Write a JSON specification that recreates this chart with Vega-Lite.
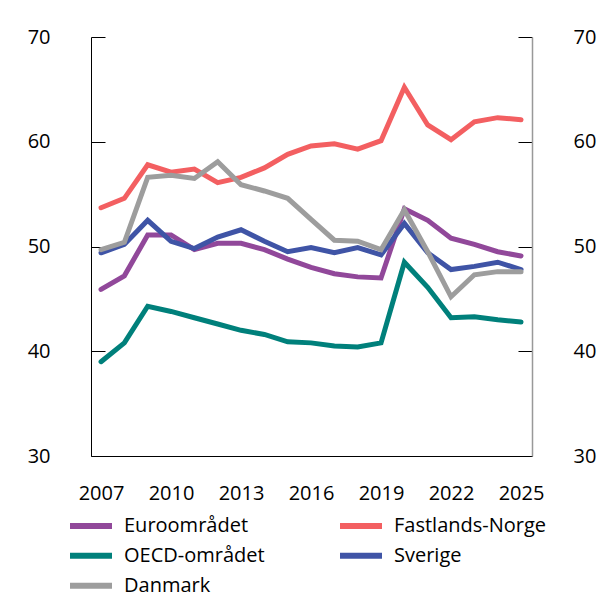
{
  "$schema": "https://vega.github.io/schema/vega-lite/v6.json",
  "width": 441,
  "height": 419,
  "autosize": {"type": "none"},
  "padding": {"left": 91, "top": 37, "right": 82, "bottom": 149},
  "background": "white",
  "config": {
    "font": "Open Sans",
    "view": {"stroke": null},
    "axis": {"labelFont": "Open Sans", "labelFontSize": 20, "labelColor": "#000", "grid": false, "title": null},
    "legend": {"labelFont": "Open Sans", "labelFontSize": 20, "labelColor": "#000"}
  },
  "data": {"values": [
    {"year":2007,"series":"Euroområdet","value":45.9},{"year":2008,"series":"Euroområdet","value":47.2},{"year":2009,"series":"Euroområdet","value":51.1},{"year":2010,"series":"Euroområdet","value":51.1},{"year":2011,"series":"Euroområdet","value":49.7},{"year":2012,"series":"Euroområdet","value":50.3},{"year":2013,"series":"Euroområdet","value":50.3},{"year":2014,"series":"Euroområdet","value":49.7},{"year":2015,"series":"Euroområdet","value":48.8},{"year":2016,"series":"Euroområdet","value":48.0},{"year":2017,"series":"Euroområdet","value":47.4},{"year":2018,"series":"Euroområdet","value":47.1},{"year":2019,"series":"Euroområdet","value":47.0},{"year":2020,"series":"Euroområdet","value":53.6},{"year":2021,"series":"Euroområdet","value":52.5},{"year":2022,"series":"Euroområdet","value":50.8},{"year":2023,"series":"Euroområdet","value":50.2},{"year":2024,"series":"Euroområdet","value":49.5},{"year":2025,"series":"Euroområdet","value":49.1},
    {"year":2007,"series":"Fastlands-Norge","value":53.7},{"year":2008,"series":"Fastlands-Norge","value":54.6},{"year":2009,"series":"Fastlands-Norge","value":57.8},{"year":2010,"series":"Fastlands-Norge","value":57.1},{"year":2011,"series":"Fastlands-Norge","value":57.4},{"year":2012,"series":"Fastlands-Norge","value":56.1},{"year":2013,"series":"Fastlands-Norge","value":56.6},{"year":2014,"series":"Fastlands-Norge","value":57.5},{"year":2015,"series":"Fastlands-Norge","value":58.8},{"year":2016,"series":"Fastlands-Norge","value":59.6},{"year":2017,"series":"Fastlands-Norge","value":59.8},{"year":2018,"series":"Fastlands-Norge","value":59.3},{"year":2019,"series":"Fastlands-Norge","value":60.1},{"year":2020,"series":"Fastlands-Norge","value":65.2},{"year":2021,"series":"Fastlands-Norge","value":61.6},{"year":2022,"series":"Fastlands-Norge","value":60.2},{"year":2023,"series":"Fastlands-Norge","value":61.9},{"year":2024,"series":"Fastlands-Norge","value":62.3},{"year":2025,"series":"Fastlands-Norge","value":62.1},
    {"year":2007,"series":"OECD-området","value":39.0},{"year":2008,"series":"OECD-området","value":40.8},{"year":2009,"series":"OECD-området","value":44.3},{"year":2010,"series":"OECD-området","value":43.8},{"year":2011,"series":"OECD-området","value":43.2},{"year":2012,"series":"OECD-området","value":42.6},{"year":2013,"series":"OECD-området","value":42.0},{"year":2014,"series":"OECD-området","value":41.6},{"year":2015,"series":"OECD-området","value":40.9},{"year":2016,"series":"OECD-området","value":40.8},{"year":2017,"series":"OECD-området","value":40.5},{"year":2018,"series":"OECD-området","value":40.4},{"year":2019,"series":"OECD-området","value":40.8},{"year":2020,"series":"OECD-området","value":48.5},{"year":2021,"series":"OECD-området","value":46.1},{"year":2022,"series":"OECD-området","value":43.2},{"year":2023,"series":"OECD-området","value":43.3},{"year":2024,"series":"OECD-området","value":43.0},{"year":2025,"series":"OECD-området","value":42.8},
    {"year":2007,"series":"Sverige","value":49.4},{"year":2008,"series":"Sverige","value":50.2},{"year":2009,"series":"Sverige","value":52.5},{"year":2010,"series":"Sverige","value":50.5},{"year":2011,"series":"Sverige","value":49.8},{"year":2012,"series":"Sverige","value":50.9},{"year":2013,"series":"Sverige","value":51.6},{"year":2014,"series":"Sverige","value":50.5},{"year":2015,"series":"Sverige","value":49.5},{"year":2016,"series":"Sverige","value":49.9},{"year":2017,"series":"Sverige","value":49.4},{"year":2018,"series":"Sverige","value":49.9},{"year":2019,"series":"Sverige","value":49.2},{"year":2020,"series":"Sverige","value":52.2},{"year":2021,"series":"Sverige","value":49.4},{"year":2022,"series":"Sverige","value":47.8},{"year":2023,"series":"Sverige","value":48.1},{"year":2024,"series":"Sverige","value":48.5},{"year":2025,"series":"Sverige","value":47.8},
    {"year":2007,"series":"Danmark","value":49.7},{"year":2008,"series":"Danmark","value":50.4},{"year":2009,"series":"Danmark","value":56.6},{"year":2010,"series":"Danmark","value":56.8},{"year":2011,"series":"Danmark","value":56.5},{"year":2012,"series":"Danmark","value":58.1},{"year":2013,"series":"Danmark","value":55.9},{"year":2014,"series":"Danmark","value":55.3},{"year":2015,"series":"Danmark","value":54.6},{"year":2016,"series":"Danmark","value":52.6},{"year":2017,"series":"Danmark","value":50.6},{"year":2018,"series":"Danmark","value":50.5},{"year":2019,"series":"Danmark","value":49.7},{"year":2020,"series":"Danmark","value":53.5},{"year":2021,"series":"Danmark","value":49.5},{"year":2022,"series":"Danmark","value":45.2},{"year":2023,"series":"Danmark","value":47.3},{"year":2024,"series":"Danmark","value":47.6},{"year":2025,"series":"Danmark","value":47.6}
  ]},
  "layer": [
    {
      "mark": {"type": "line", "strokeWidth": 5, "strokeCap": "round"},
      "encoding": {
        "x": {"field": "year", "type": "quantitative",
              "scale": {"domain": [2006.57, 2025.47], "nice": false, "zero": false},
              "axis": {"values": [2007, 2010, 2013, 2016, 2019, 2022, 2025], "format": "d", "ticks": false, "labelPadding": 27, "domainColor": "#000", "domainWidth": 1, "labelFlush": false}},
        "y": {"field": "value", "type": "quantitative",
              "scale": {"domain": [30, 70], "nice": false, "zero": false},
              "axis": {"orient": "left", "values": [30, 40, 50, 60, 70], "tickSize": -14, "tickColor": "#000", "domainColor": "#000", "labelPadding": 55}},
        "color": {"field": "series", "type": "nominal",
                  "scale": {"domain": ["Euroområdet", "Fastlands-Norge", "OECD-området", "Sverige", "Danmark"],
                            "range": ["#91489A", "#F35F61", "#00807B", "#3F54A6", "#9D9D9D"]},
                  "legend": {"title": null, "orient": "none", "direction": "horizontal", "legendX": -24, "legendY": 474, "columns": 2, "symbolType": "stroke", "symbolSize": 1764, "symbolStrokeWidth": 6, "clipHeight": 29.5, "rowPadding": 0, "columnPadding": 72, "labelOffset": 9}}
      }
    },
    {
      "mark": {"type": "line", "opacity": 0},
      "encoding": {
        "x": {"field": "year", "type": "quantitative"},
        "y": {"field": "value", "type": "quantitative",
              "axis": {"orient": "right", "values": [30, 40, 50, 60, 70], "tickSize": -14, "tickColor": "#000", "domainColor": "#999", "domainWidth": 1.5, "labelPadding": 55}}
      }
    }
  ],
  "resolve": {"axis": {"y": "independent"}}
}
